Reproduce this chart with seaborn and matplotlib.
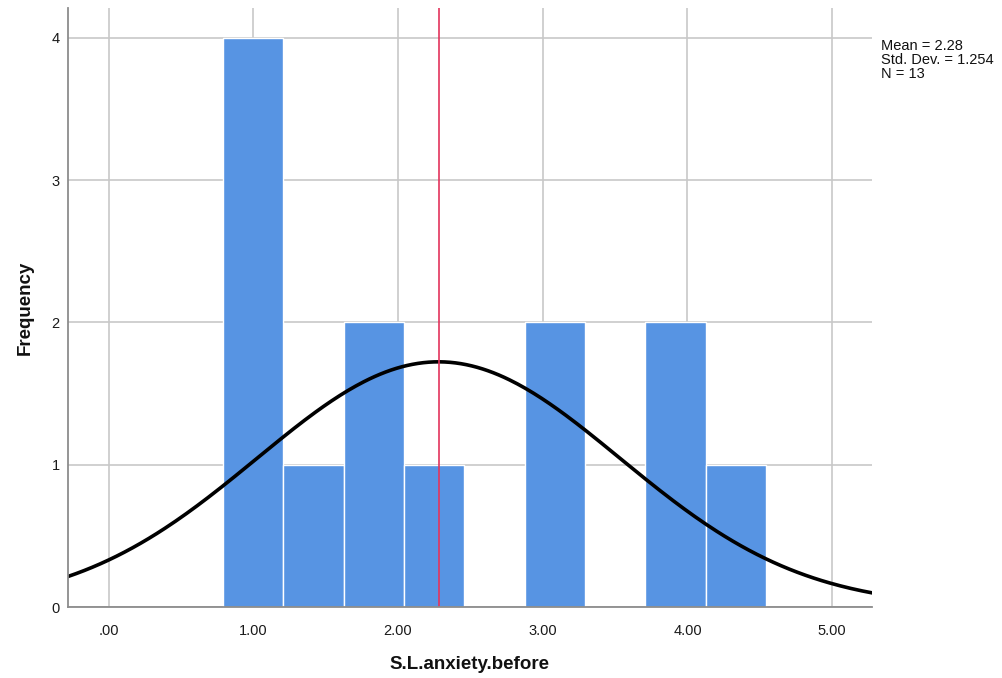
import numpy as np
import pandas as pd
import matplotlib
matplotlib.use("Agg")
import matplotlib.pyplot as plt
import seaborn as sns

# histogram bins (centre of each bar, count)
bin_centers = [1.0, 1.4167, 1.8333, 2.25, 2.6667, 3.0833, 3.5, 3.9167, 4.3333]
counts = [4, 1, 2, 1, 0, 2, 0, 2, 1]
bin_width = 5 / 12

# summary statistics shown in the legend box
mean_val = 2.28
std_val = 1.254
n_val = 13

x_ticks = [0, 1, 2, 3, 4, 5]
x_tick_labels = [".00", "1.00", "2.00", "3.00", "4.00", "5.00"]
y_ticks = [0, 1, 2, 3, 4]

sns.set_theme(style="white")
plt.rcParams["font.family"] = ["Liberation Sans", "DejaVu Sans"]

fig = plt.figure(figsize=(10.02, 6.78), dpi=100)
ax = fig.add_axes([0.068, 0.1047, 0.802, 0.8835])

lo = bin_centers[0] - bin_width / 2
hi = bin_centers[-1] + bin_width / 2
hist_df = pd.DataFrame({"value": bin_centers, "count": counts})
sns.histplot(data=hist_df, x="value", weights="count", binwidth=bin_width,
             binrange=(lo, hi), ax=ax,
             color="#5794E3", edgecolor="white", linewidth=1.0, alpha=1)

# fitted normal curve
xs = np.linspace(-0.28, 5.28, 300)
ys = n_val * bin_width * np.exp(-0.5 * ((xs - mean_val) / std_val) ** 2) / (std_val * np.sqrt(2 * np.pi))
sns.lineplot(x=xs, y=ys, ax=ax, color="black", linewidth=2.6)

ax.axvline(mean_val, color="#E3335C", linewidth=1.2)

ax.set_xlim(-0.279, 5.273)
ax.set_ylim(0, 4.21)
ax.set_xticks(x_ticks)
ax.set_xticklabels(x_tick_labels)
ax.set_yticks(y_ticks)
ax.set_axisbelow(True)
ax.grid(True, color="#C8C8C8", linewidth=1.2)
ax.tick_params(axis="x", length=0, labelsize=10.5, colors="#1a1a1a", pad=12)
ax.tick_params(axis="y", length=0, labelsize=10.5, colors="#1a1a1a", pad=6)

for side in ["top", "right"]:
    ax.spines[side].set_visible(False)
for side in ["left", "bottom"]:
    ax.spines[side].set_color("#8C8C8C")
    ax.spines[side].set_linewidth(1.3)

ax.set_xlabel("S.L.anxiety.before", fontsize=13.5, fontweight="bold", labelpad=13, color="#111111")
ax.set_ylabel("Frequency", fontsize=13.5, fontweight="bold", labelpad=13, color="#111111")

fig.text(0.879, 0.943, f"Mean = {mean_val:.2f}\nStd. Dev. = {std_val:.3f}\nN = {n_val}",
         fontsize=10.5, va="top", ha="left", linespacing=1.0, color="#111111")

fig.savefig("out.png", dpi=100)
